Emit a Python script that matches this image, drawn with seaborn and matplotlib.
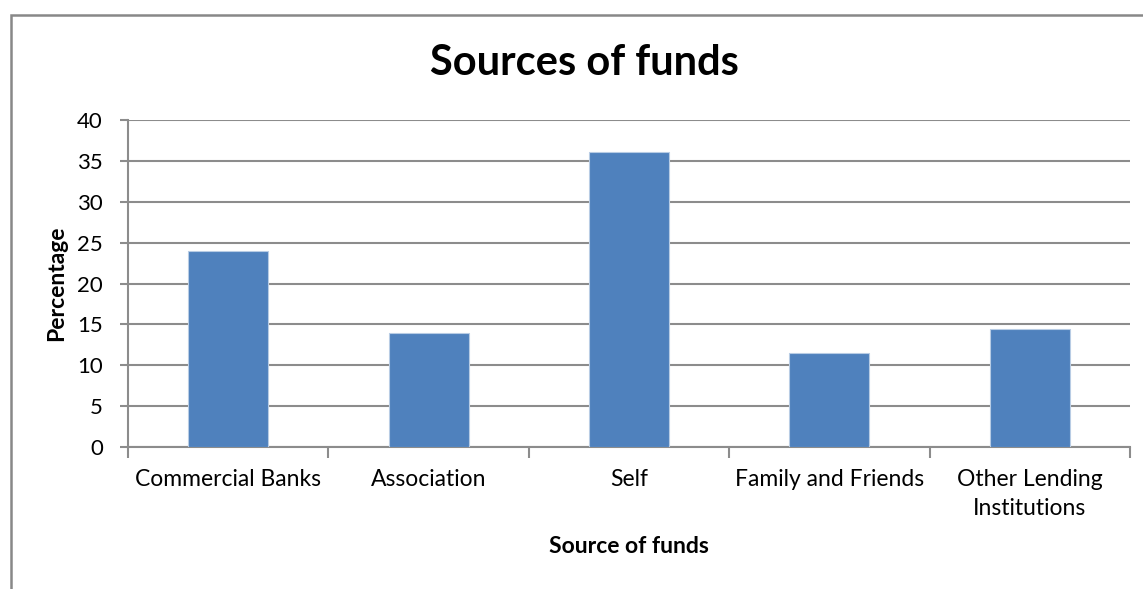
import matplotlib
matplotlib.use("Agg")
import matplotlib.pyplot as plt
from matplotlib.patches import Rectangle
from matplotlib.ticker import FixedLocator
import seaborn as sns
import pandas as pd

categories = ["Commercial Banks", "Association", "Self", "Family and Friends",
              "Other Lending\nInstitutions"]
percentages = [24.0, 13.9, 36.1, 11.5, 14.4]
y_ticks = [0, 5, 10, 15, 20, 25, 30, 35, 40]

sns.set_theme(style="white")
plt.rcParams["font.family"] = ["Lato", "DejaVu Sans"]
plt.rcParams["text.color"] = "black"
plt.rcParams["axes.labelcolor"] = "black"

df = pd.DataFrame({"source": categories, "pct": percentages})

fig = plt.figure(figsize=(11.43, 5.89), dpi=100)
W, H = 1143, 589
ax = fig.add_axes([128 / W, 1 - 447 / H, (1130 - 128) / W, (447 - 120) / H])

grey = "#8c8c8c"
sns.barplot(data=df, x="source", y="pct", color="#4F81BD", width=0.4,
            saturation=1, ax=ax, zorder=3, edgecolor="#b8cce4", linewidth=0.8)

ax.set_ylim(0, 40)
ax.set_xlim(-0.5, len(categories) - 0.5)
ax.set_yticks(y_ticks)
ax.yaxis.grid(True, color=grey, linewidth=1.5, zorder=0)
ax.set_axisbelow(True)

for side in ("top", "right"):
    ax.spines[side].set_visible(False)
for side in ("left", "bottom"):
    ax.spines[side].set_color(grey)
    ax.spines[side].set_linewidth(1.5)

# category separators as tick marks below the axis
ax.xaxis.set_minor_locator(FixedLocator([i - 0.5 for i in range(len(categories) + 1)]))
ax.tick_params(axis="x", which="major", length=0, pad=16, labelsize=16.5, labelcolor="black")
ax.tick_params(axis="x", which="minor", bottom=True, length=8, width=1.5, color=grey, direction="out")
ax.tick_params(axis="y", left=True, length=6, width=1.5, color=grey, labelsize=16,
               labelcolor="black", pad=12)
for lbl in ax.get_xticklabels():
    lbl.set_linespacing(1.45)

ax.set_xlabel("Source of funds", fontsize=16.5, fontweight="bold", labelpad=12)
ax.set_ylabel("Percentage", fontsize=16.5, fontweight="bold", labelpad=7)

fig.text(584 / W, 1 - 63 / H, "Sources of funds", fontsize=30, fontweight="bold",
         ha="center", va="center", color="black")

# chart area frame
fig.patches.append(Rectangle((11 / W, -0.1), 1.2, 1 - 15 / H + 0.1, transform=fig.transFigure,
                             fill=False, edgecolor="#888888", linewidth=1.8))

fig.savefig("out.png", dpi=100)
